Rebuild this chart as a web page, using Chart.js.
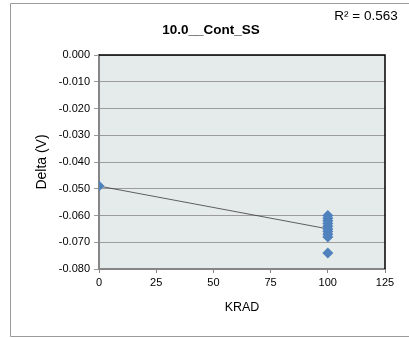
<!DOCTYPE html>
<html>
<head>
<meta charset="utf-8">
<script src="https://cdn.jsdelivr.net/npm/chart.js@4"></script>
<style>
  html, body { margin: 0; padding: 0; background: #fff; }
  #wrap { width: 409px; height: 338px; }
</style>
</head>
<body>
<div id="wrap"><canvas id="deltaChart" width="409" height="338"></canvas></div>
<script>
// data
const chartTitle = '10.0__Cont_SS';
const rSquaredText = 'R² = 0.563';
const kradValues = [0, 100, 100, 100, 100, 100, 100, 100, 100, 100, 100];
const deltaValues = [-0.049, -0.060, -0.061, -0.062, -0.063, -0.064, -0.065, -0.066, -0.067, -0.068, -0.074];
const trendX = [0, 100];
const trendY = [-0.049, -0.065];
const xTicks = [0, 25, 50, 75, 100, 125];
const yTicks = [0, -0.01, -0.02, -0.03, -0.04, -0.05, -0.06, -0.07, -0.08];

const fontFamily = "'Liberation Sans', Arial, sans-serif";
Chart.defaults.font.family = fontFamily;
Chart.defaults.color = '#000';

// plot background, frame, title and R² label
const decor = {
    id: 'decor',
    beforeDraw(chart) {
        const { ctx, chartArea: a } = chart;
        ctx.save();
        ctx.fillStyle = '#fff';
        ctx.fillRect(0, 0, chart.width, chart.height);
        // outer frame
        ctx.strokeStyle = '#9a9a9a';
        ctx.lineWidth = 1;
        ctx.beginPath();
        ctx.moveTo(409, 3.5);
        ctx.lineTo(10.5, 3.5);
        ctx.lineTo(10.5, 336.5);
        ctx.lineTo(409, 336.5);
        ctx.stroke();
        ctx.fillStyle = '#e5ebeb';
        ctx.fillRect(a.left, a.top, a.right - a.left, a.bottom - a.top);
        ctx.restore();
    },
    afterDraw(chart) {
        const { ctx, chartArea: a } = chart;
        ctx.save();
        ctx.strokeStyle = '#000';
        ctx.lineWidth = 1.5;
        ctx.beginPath();
        ctx.moveTo(a.left, a.top);
        ctx.lineTo(a.right, a.top);
        ctx.lineTo(a.right, a.bottom);
        ctx.stroke();
        ctx.fillStyle = '#000';
        ctx.textAlign = 'center';
        ctx.textBaseline = 'middle';
        ctx.font = 'bold 13.5px ' + fontFamily;
        ctx.fillText(chartTitle, 211, 30);
        ctx.font = '13.5px ' + fontFamily;
        ctx.fillText(rSquaredText, 366, 16);
        ctx.restore();
    }
};

const ctx = document.getElementById('deltaChart').getContext('2d');

new Chart(ctx, {
    type: 'scatter',
    data: {
        datasets: [
            {
                label: 'Delta',
                data: kradValues.map((x, i) => ({ x: x, y: deltaValues[i] })),
                pointStyle: 'rectRot',
                pointRadius: 5.5,
                pointHoverRadius: 5.5,
                backgroundColor: '#4f81bd',
                borderColor: '#4f81bd',
                borderWidth: 0
            },
            {
                label: 'Trend',
                data: trendX.map((x, i) => ({ x: x, y: trendY[i] })),
                showLine: true,
                pointRadius: 0,
                borderColor: '#3a3a3a',
                borderWidth: 0.8,
                fill: false
            }
        ]
    },
    options: {
        responsive: false,
        animation: false,
        layout: { padding: { left: 28, right: 24, top: 55, bottom: 19 } },
        plugins: {
            legend: { display: false },
            title: { display: false },
            tooltip: { enabled: false }
        },
        scales: {
            x: {
                type: 'linear',
                min: 0,
                max: 125,
                afterFit(scale) { scale.height = 50; },
                afterBuildTicks(scale) { scale.ticks = xTicks.map(v => ({ value: v })); },
                ticks: { font: { size: 11 }, padding: 3, maxRotation: 0 },
                grid: { drawOnChartArea: false, drawTicks: true, tickLength: 4, color: '#868686' },
                border: { color: '#868686', width: 2 },
                title: { display: true, text: 'KRAD', font: { size: 12.5 }, padding: { top: 2, bottom: 4 } }
            },
            y: {
                type: 'linear',
                min: -0.08,
                max: 0,
                afterFit(scale) { scale.width = 71; },
                afterBuildTicks(scale) { scale.ticks = yTicks.map(v => ({ value: v })); },
                ticks: { font: { size: 11 }, padding: 4, callback: v => v.toFixed(3) },
                grid: { color: '#9c9c9c', lineWidth: 1, tickLength: 5 },
                border: { color: '#868686', width: 2 },
                title: { display: true, text: 'Delta (V)', font: { size: 14 }, padding: { top: 6, bottom: 2 } }
            }
        }
    },
    plugins: [decor]
});
</script>
</body>
</html>
